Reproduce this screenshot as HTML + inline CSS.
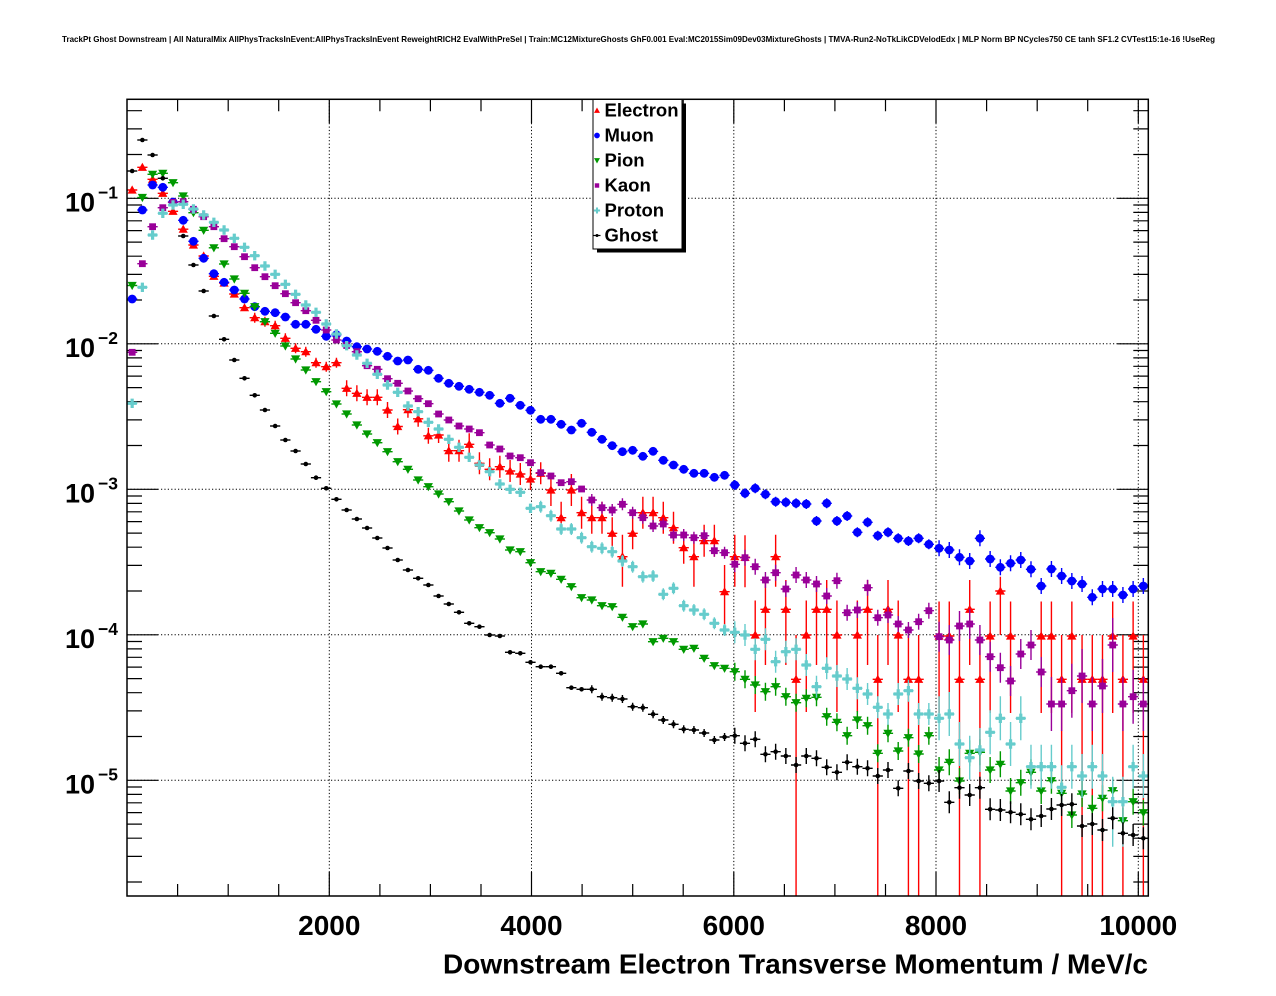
<!DOCTYPE html>
<html><head><meta charset="utf-8">
<style>
body{margin:0;background:#fff}
svg{display:block}
text{font-family:"Liberation Sans",Arial,Helvetica,sans-serif;font-weight:bold;fill:#000}
</style></head>
<body>
<svg id="c" xmlns="http://www.w3.org/2000/svg" width="1276" height="996" viewBox="0 0 1276 996">
<rect width="1276" height="996" fill="#fff"/>
<defs><clipPath id="fr"><rect x="127" y="99.3" width="1021.3" height="796.7"/></clipPath></defs>
<text x="638.5" y="42" font-size="8.5" text-anchor="middle" textLength="1153" lengthAdjust="spacingAndGlyphs">TrackPt Ghost Downstream | All NaturalMix AllPhysTracksInEvent:AllPhysTracksInEvent ReweightRICH2 EvalWithPreSel | Train:MC12MixtureGhosts GhF0.001 Eval:MC2015Sim09Dev03MixtureGhosts | TMVA-Run2-NoTkLikCDVelodEdx | MLP Norm BP NCycles750 CE tanh SF1.2 CVTest15:1e-16 !UseReg</text>
<path d="M329.3 99.3V896M531.5 99.3V896M733.8 99.3V896M936 99.3V896M1138.3 99.3V896M127 198.3H1148.3M127 343.8H1148.3M127 489.3H1148.3M127 634.8H1148.3M127 780.3H1148.3" stroke="#000" stroke-width="1" stroke-dasharray="1.2,2.2" fill="none"/>
<g id="ticks" stroke="#000" stroke-width="1.2"></g>
<g id="data" clip-path="url(#fr)"></g>
<rect x="127" y="99.3" width="1021.3" height="796.7" fill="none" stroke="#000" stroke-width="1.5"/>

<g font-size="27">
<text x="95" y="211.3" text-anchor="end">10</text>
<text x="95" y="356.8" text-anchor="end">10</text>
<text x="95" y="502.3" text-anchor="end">10</text>
<text x="95" y="647.8" text-anchor="end">10</text>
<text x="95" y="793.3" text-anchor="end">10</text>
</g>
<g font-size="17.5">
<text x="98" y="198.3">−1</text>
<text x="98" y="343.8">−2</text>
<text x="98" y="489.3">−3</text>
<text x="98" y="634.8">−4</text>
<text x="98" y="780.3">−5</text>
</g>
<g font-size="28" text-anchor="middle">
<text x="329.3" y="935">2000</text>
<text x="531.5" y="935">4000</text>
<text x="733.8" y="935">6000</text>
<text x="936" y="935">8000</text>
<text x="1138.3" y="935">10000</text>
</g>
<text x="1148" y="973.5" font-size="28" text-anchor="end" textLength="705" lengthAdjust="spacingAndGlyphs">Downstream Electron Transverse Momentum / MeV/c</text>

<rect x="597" y="103.5" width="89" height="149" fill="#000"/>
<rect x="593" y="99.5" width="89" height="149.5" fill="#fff" stroke="#000" stroke-width="1"/>
<g id="leg"></g>
<g font-size="18.5">
<text x="604.5" y="116.7">Electron</text>
<text x="604.5" y="141.7">Muon</text>
<text x="604.5" y="166.7">Pion</text>
<text x="604.5" y="191.7">Kaon</text>
<text x="604.5" y="216.7">Proton</text>
<text x="604.5" y="241.7">Ghost</text>
</g>
</svg>
<script>
(function(){
const NS="http://www.w3.org/2000/svg";
function el(p,t,a){const e=document.createElementNS(NS,t);for(const k in a)e.setAttribute(k,a[k]);p.appendChild(e);return e;}
let d='';
const Y=v=>198.3-145.5*(Math.log10(v)+1);
for(let e=-6;e<=0;e++)for(let m=1;m<=9;m++){const y=Y(m*Math.pow(10,e));if(y<100||y>895.5)continue;const L=m==1?31:15;d+='M127 '+y.toFixed(1)+'h'+L+'M1148.3 '+y.toFixed(1)+'h'+(-L);}
for(let v=500;v<=10000;v+=500){const x=(127.05+v*0.101125).toFixed(1);const L=v%2000==0?24:12;d+='M'+x+' 896v'+(-L)+'M'+x+' 99.3v'+L;}
el(document.getElementById('ticks'),'path',{d:d,fill:'none'});

function marker(g,m,x,y,c,k){
 if(m=='tu')el(g,'path',{d:'M'+x+' '+(y-4.6*k)+'L'+(x+4.6*k)+' '+(y+3.6*k)+'L'+(x-4.6*k)+' '+(y+3.6*k)+'Z',fill:c});
 else if(m=='td')el(g,'path',{d:'M'+x+' '+(y+4.6*k)+'L'+(x+4.6*k)+' '+(y-3.6*k)+'L'+(x-4.6*k)+' '+(y-3.6*k)+'Z',fill:c});
 else if(m=='ci')el(g,'circle',{cx:x,cy:y,r:4.4*k,fill:c});
 else if(m=='sq')el(g,'rect',{x:x-3.4*k,y:y-3.4*k,width:6.8*k,height:6.8*k,fill:c});
 else if(m=='cr'){const a=4.7*k,b=1.6*k;el(g,'path',{d:'M'+(x-b)+' '+(y-a)+'h'+(2*b)+'v'+(a-b)+'h'+(a-b)+'v'+(2*b)+'h'+(b-a)+'v'+(a-b)+'h'+(-2*b)+'v'+(b-a)+'h'+(b-a)+'v'+(-2*b)+'h'+(a-b)+'z',fill:c});}
 else if(m=='dt')el(g,'circle',{cx:x,cy:y,r:2.3*k,fill:c});
}
const N=null;
const R=[190,167.3,179.3,193.3,211.3,229.2,245,256,276.3,283,
294,307.7,317.7,321.7,325.7,338.3,348.3,351.7,362.7,366.7,
362.7,388.3,393.3,397.3,397.3,410,426.5,409.7,418.8,435.8,
435,450.7,450.7,444.3,463.3,469.3,466.7,471,474,479,
473.3,490,517.7,490,512.7,517.7,517.7,533.3,556.7,533.3,
512.7,512.7,517.7,527.7,547.7,556.7,540.7,540.7,591.7,556.7,
557.3,635,609.3,556.7,609.3,679.3,635,609.3,609.3,635,
N,635,609.3,679.3,609.3,635,679.3,679.3,N,636,
636,679.3,609.3,679.3,636,591,636,N,N,636,
636,679.3,636,679.3,679.3,679.3,636,679.3,636,679.3];
const B=[299,210,185,187.3,202,220.3,241.3,258.3,273.7,282.3,
290,299,306.7,311.3,312.7,317,324.3,324.3,329.3,336.3,
334.7,341,346.7,349,351.3,356.3,361,360,369.3,370.3,
378.3,383.3,386.3,389.3,392.3,395.3,403.3,398.3,405.3,410.3,
419.3,419.3,424.3,430,423.3,432.3,439.3,445.7,451.7,450.3,
456.3,451.3,460.3,465,469.3,473.3,473.3,477.3,475.3,485,
493.3,488.3,494.3,501.7,502.3,503.3,504,521,503.3,521,
516,532.3,522.3,535.7,532.3,538.3,541,538.3,544.3,548.3,
550,557.3,561,538.3,559,567.3,563.3,560,569.3,586,
569,576,581,584,597.3,589,589,595,589,586];
const G=[285.5,197.5,174.3,173.3,182.7,196,212.7,230.3,247.8,264,
279,293.3,306.7,321.7,333.3,346,359,370,381.7,391.7,
404,414,425,434,442.7,451.7,461.7,469.3,480,486.7,
494,501.7,511,520,527.7,532.7,539,550,551.7,562.7,
571.7,573.3,579.3,586.7,597.7,600,605.7,606.7,617.3,626.7,
624,641.7,638.3,641.7,649.3,648.3,658.3,665.7,668.3,671.7,
679.3,685,691.7,686.7,696.7,702.7,698.3,697.3,716.7,722.3,
735.7,720,725.7,753.3,733.3,751,737.7,754,735.7,770,
762.3,781,753.3,752.3,770,764.3,791,782.7,772.3,791,
780.7,793.3,815,794,808.3,798.3,790.7,820.7,801.7,812.7];
const P=[352.3,263.7,226.7,207.7,202.3,201.7,209.3,216.7,226.7,238.7,
246.7,256.7,267.7,276.7,285.7,293.7,302.7,310.7,320.3,330,
340,345.5,351.7,365.7,369.3,378.7,383.3,391,398.7,403.7,
414,420,426,429,432.7,445,449,456,457.7,462.7,
472.7,476,482.7,481.7,489,500,507.7,510,504.3,512.7,
517.7,526,524,535,535,537.7,535.7,550.7,552.7,564.3,
557.7,566.7,580,572.7,589,575,580,584,596,580.7,
612.7,610,587.7,617.7,615,624,630,621.7,610.7,636.7,
640,626,624,640,656.7,667.7,681,654,645,672,
704,704,690.7,676,704,686,645,704,696.7,704];
const C=[403.3,287.3,235,213.3,205,204.3,209,215,222.3,230,
238.3,247.3,255.7,266,274.3,284.3,294.3,305,312.3,324,
334,345.7,355,363.3,374.3,385,392.3,406,411.7,422.3,
429,439.3,447.3,457.3,465,471.7,484,489.3,492.3,508.3,
506.7,515.7,529,529,537.7,546.7,548.3,551.7,561,566.7,
576.7,576,594.3,588.3,605.7,610,614.3,623.3,630,632.3,
635,649.3,639.3,661.7,651.7,649.3,665,686.7,668.3,676,
679,688.3,694,707.3,714,694,690.7,714,714,718.3,
714,744,757.7,750,732.3,718.3,744,718.3,766.7,766.7,
766.7,787.3,766.7,776,766.7,776,801.7,801.7,766.7,776];
const K=[171,140,155,178.3,N,236,265,291,316,339.3,
360,378.3,395.3,410,426,440,451,464,477.7,488.3,
499.3,510,519,528,538,548,560,570,578.3,585,
596,604,612.3,623.3,626.7,635,636,652.3,653.3,662.3,
666.7,666.7,673.3,687.7,689.3,689.3,696.7,697.7,699,706.7,
707.7,714.3,720,724.3,729.3,730,733,740,737,735.7,
743.3,739.3,754.3,751.7,756,765,756,758.3,767.3,772.3,
762.3,766.7,768.3,776,770,788.3,771,781,783.3,781,
802.3,787.7,795,787.7,809.3,810,812.3,814.3,819.3,816,
809,805,804.3,826,824,830,818.3,833.3,835,838.3];
function redE(i,y){
 if(i==58)return[26.7,33.3];
 if(i==85)return[14.3,44];
 if(y>679&&y<680)return[44.3,300];
 if(Math.abs(y-635.5)<1.5)return[34.5,77];
 if(Math.abs(y-609.3)<0.5)return[29.3,55.7];
 if(Math.abs(y-557)<0.8)return[22,30];
 const e=i<12?2:i<21?5:i<31?8:i<41?11:16;return[e,e];
}
const S=[
 {c:'#ff0000',m:'tu',y:R,e:redE},
 {c:'#0000ff',m:'ci',y:B,e:(i,y)=>{const e=i<45?0:i<59?2:i<79?5:8;return[e,e];}},
 {c:'#009900',m:'td',y:G,e:(i,y)=>{const e=i<40?0:i<59?3:i<79?9:13;return[e,e];}},
 {c:'#990099',m:'sq',y:P,e:(i,y)=>{const e=i<45?0:i<59?6:i<79?8:i<90?15:27;return[e,e];}},
 {c:'#66cccc',m:'cr',y:C,e:(i,y)=>{if(i>=79&&y>790)return[25,45];const e=i<40?0:i<59?6:i<79?11:22;return[e,e];}},
 {c:'#000000',m:'dt',y:K,e:(i,y)=>{const e=i<45?0:i<59?4:i<79?8:11;return[e,e];}}
];
const g=document.getElementById('data');
S.forEach(s=>{
 s.y.forEach((y,i)=>{
  if(y==null)return;
  const x=132.16+10.214*i;
  const ee=s.e(i,y);
  let p='M'+(x-5.1).toFixed(2)+' '+y+'H'+(x+5.1).toFixed(2);
  if(ee[0]>0||ee[1]>0)p+='M'+x.toFixed(2)+' '+(y-ee[0]).toFixed(2)+'V'+(y+ee[1]).toFixed(2);
  el(g,'path',{d:p,stroke:s.c,'stroke-width':1.4,fill:'none'});
  marker(g,s.m,x,y,s.c,1);
 });
});
const lg=document.getElementById('leg');
const LY=[110.5,135.5,160.5,185.5,210.5,235.5];
S.forEach((s,j)=>{
 if(s.m=='dt')el(lg,'path',{d:'M593.5 '+LY[j]+'H600.5',stroke:'#000','stroke-width':1.2});
 marker(lg,s.m,597,LY[j],s.c,0.65);
});
})();
</script>
</body></html>
